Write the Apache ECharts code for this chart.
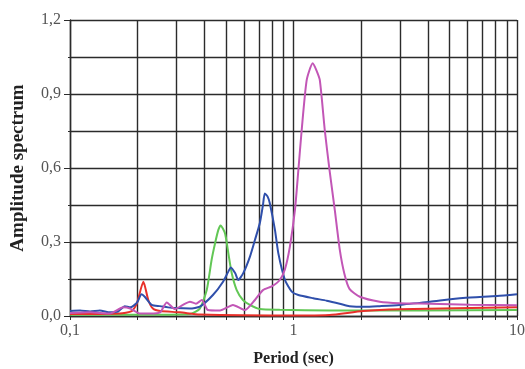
<!DOCTYPE html>
<html>
<head>
<meta charset="utf-8">
<script src="https://cdn.jsdelivr.net/npm/echarts@6/dist/echarts.min.js"></script>
<style>
  html, body { margin: 0; padding: 0; background: #fff; }
  #chart { width: 525px; height: 369px; }
</style>
</head>
<body>
<div id="chart"></div>
<script>
// periods (sec) and amplitudes
const redPeriod = [0.1, 0.167, 0.189, 0.199, 0.213, 0.224, 0.235, 0.253, 0.31, 0.381, 1.069, 1.45, 2.05, 2.98, 10]
const redAmp = [0.008, 0.01, 0.02, 0.05, 0.139, 0.065, 0.03, 0.02, 0.015, 0.006, 0.002, 0.004, 0.02, 0.027, 0.035]

const greenPeriod = [0.1, 0.228, 0.344, 0.381, 0.409, 0.43, 0.446, 0.461, 0.472, 0.494, 0.511, 0.529, 0.557, 0.594, 0.638, 0.707, 0.868, 1.45, 10]
const greenAmp = [0.005, 0.005, 0.008, 0.03, 0.105, 0.227, 0.296, 0.349, 0.367, 0.335, 0.255, 0.174, 0.105, 0.065, 0.045, 0.028, 0.025, 0.022, 0.024]

const bluePeriod = [0.1, 0.111, 0.123, 0.136, 0.151, 0.164, 0.176, 0.186, 0.199, 0.209, 0.216, 0.232, 0.253, 0.2745, 0.295, 0.344, 0.381, 0.436, 0.484, 0.511, 0.524, 0.548, 0.566, 0.596, 0.638, 0.672, 0.707, 0.73, 0.744, 0.765, 0.783, 0.826, 0.855, 0.916, 0.982, 1.051, 1.226, 1.408, 1.61, 1.78, 2.09, 2.43, 2.98, 4.08, 5.73, 8.14, 10]
const blueAmp = [0.02, 0.022, 0.018, 0.022, 0.015, 0.018, 0.04, 0.035, 0.053, 0.088, 0.078, 0.045, 0.04, 0.035, 0.032, 0.03, 0.038, 0.085, 0.139, 0.18, 0.197, 0.174, 0.146, 0.174, 0.24, 0.308, 0.377, 0.45, 0.497, 0.485, 0.458, 0.349, 0.255, 0.146, 0.099, 0.085, 0.072, 0.062, 0.05, 0.04, 0.037, 0.04, 0.045, 0.058, 0.073, 0.081, 0.088]

const magentaPeriod = [0.1, 0.123, 0.151, 0.173, 0.186, 0.206, 0.228, 0.253, 0.271, 0.295, 0.32, 0.344, 0.366, 0.389, 0.414, 0.469, 0.536, 0.607, 0.672, 0.73, 0.799, 0.868, 0.916, 0.963, 1.015, 1.051, 1.088, 1.146, 1.219, 1.261, 1.311, 1.38, 1.45, 1.53, 1.61, 1.69, 1.78, 1.98, 2.43, 2.98, 4.08, 6.16, 10]
const magentaAmp = [0.012, 0.015, 0.01, 0.035, 0.03, 0.01, 0.01, 0.015, 0.055, 0.028, 0.045, 0.058, 0.05, 0.065, 0.024, 0.022, 0.045, 0.024, 0.065, 0.105, 0.12, 0.146, 0.19, 0.28, 0.43, 0.59, 0.754, 0.957, 1.025, 1.0, 0.957, 0.754, 0.59, 0.43, 0.27, 0.17, 0.11, 0.078, 0.058, 0.052, 0.05, 0.046, 0.044]

const yTicks = [0, 0.3, 0.6, 0.9, 1.2]

function pairs(xs, ys) {
  return xs.map((x, i) => [x, ys[i]])
}

const gridColor = '#2b2b2b'
const serif = '"Liberation Serif", "DejaVu Serif", serif'

function curve(name, color, xs, ys) {
  return {
    name: name,
    type: 'line',
    data: pairs(xs, ys),
    showSymbol: false,
    smooth: 0.2,
    lineStyle: { color: color, width: 2 },
    itemStyle: { color: color },
    silent: true,
  }
}

const chart = echarts.init(document.getElementById('chart'))
chart.setOption({
  animation: false,
  grid: { left: 70, right: 8, top: 20, bottom: 53, outerBoundsMode: 'none', containLabel: false },
  xAxis: {
    type: 'log',
    logBase: 10,
    min: 0.1,
    max: 10,
    name: 'Period (sec)',
    nameLocation: 'middle',
    nameGap: 35,
    nameTextStyle: { fontFamily: serif, fontWeight: 'bold', fontSize: 16, color: '#222' },
    axisLine: { lineStyle: { color: gridColor, width: 1.4 } },
    axisTick: { show: true, length: 4, lineStyle: { color: gridColor } },
    minorTick: { show: true, splitNumber: 9, length: 4, lineStyle: { color: gridColor } },
    splitLine: { show: true, lineStyle: { color: gridColor, width: 1.4 } },
    minorSplitLine: { show: true, lineStyle: { color: gridColor, width: 1.4 } },
    axisLabel: {
      fontFamily: serif,
      fontSize: 16,
      color: '#555',
      margin: 7,
      formatter: v => String(+v.toPrecision(3)).replace('.', ','),
    },
  },
  yAxis: {
    type: 'value',
    min: 0,
    max: 1.2,
    interval: 0.3,
    name: 'Amplitude spectrum',
    nameLocation: 'middle',
    nameGap: 42,
    nameTextStyle: { fontFamily: serif, fontWeight: 'bold', fontSize: 19, color: '#222' },
    axisLine: { show: true, lineStyle: { color: gridColor, width: 1.4 } },
    axisTick: { show: true, length: 6, lineStyle: { color: gridColor } },
    minorTick: { show: true, splitNumber: 2, length: 2, lineStyle: { color: gridColor } },
    splitLine: { show: true, lineStyle: { color: gridColor, width: 1.4 } },
    minorSplitLine: { show: true, lineStyle: { color: gridColor, width: 1.4 } },
    axisLabel: {
      fontFamily: serif,
      fontSize: 16,
      color: '#555',
      margin: 9,
      formatter: v => (yTicks.includes(+v.toFixed(1)) ? v.toFixed(1).replace('.', ',') : ''),
    },
  },
  series: [
    curve('green', '#62c755', greenPeriod, greenAmp),
    curve('red', '#e8302a', redPeriod, redAmp),
    curve('blue', '#2f4fab', bluePeriod, blueAmp),
    curve('magenta', '#c256b6', magentaPeriod, magentaAmp),
  ],
})
</script>
</body>
</html>
